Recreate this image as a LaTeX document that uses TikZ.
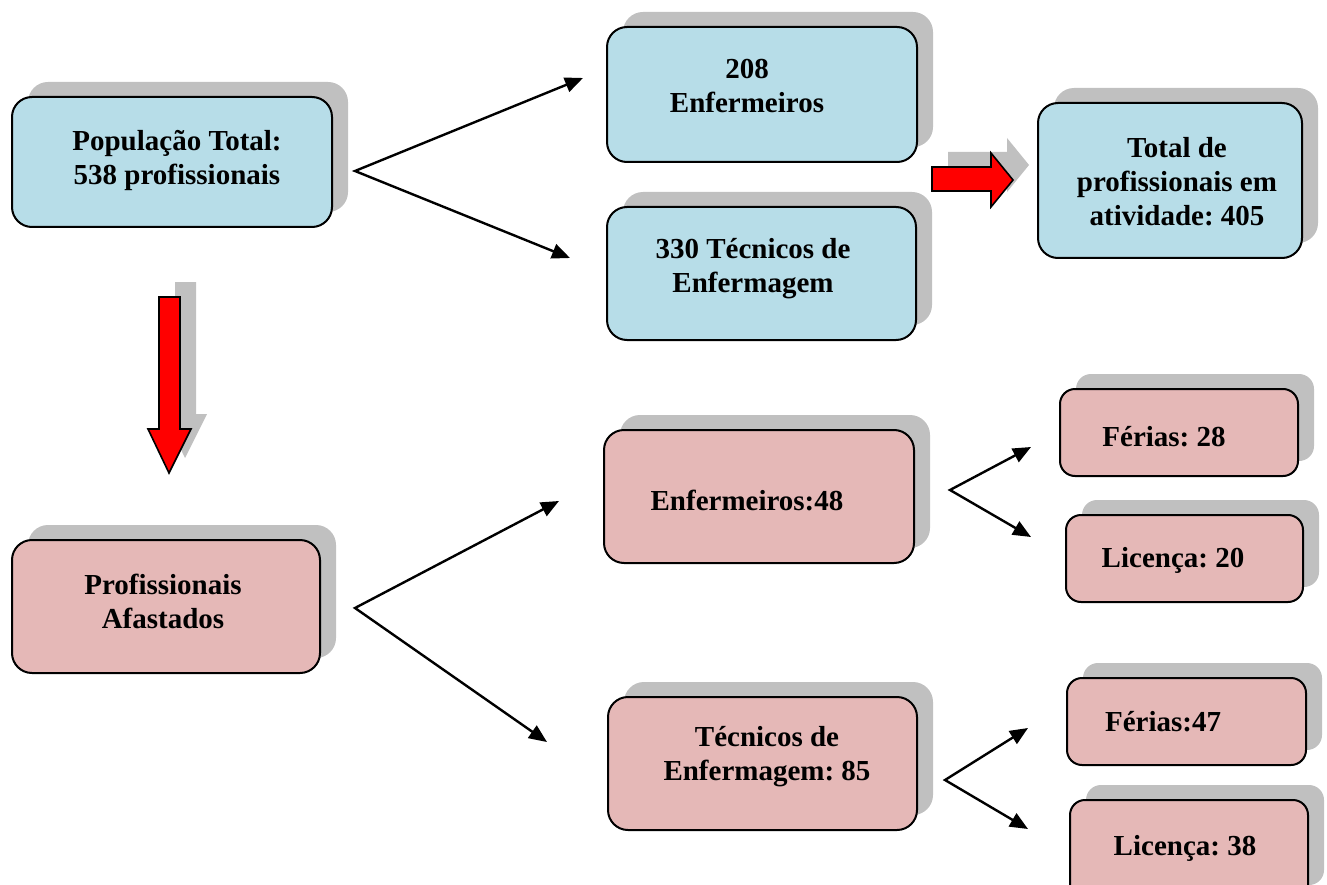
\documentclass[tikz,border=0pt]{standalone}
\usepackage{fontspec}
\setmainfont{Liberation Serif}
\usetikzlibrary{arrows.meta}
\definecolor{bluebox}{RGB}{183,221,232}
\definecolor{pinkbox}{RGB}{229,184,183}
\definecolor{shadowc}{RGB}{192,192,192}
\definecolor{redarr}{RGB}{255,0,0}
\tikzset{
  boxst/.style={draw=black, line width=2pt, inner sep=0pt},
  txt/.style={align=center, inner sep=0pt, font=\frenchspacing\bfseries\fontsize{29}{34}\selectfont},
  fork/.style={line width=2.4pt, line join=miter, {Triangle[length=18pt,width=15pt]}-{Triangle[length=18pt,width=15pt]}},
  bigarrow/.style={fill=redarr, draw=black, line width=1.6pt, line join=miter},
}
% name, left, top, right, bottom, fill, radius
\newcommand\mkbox[7]{%
  \fill[shadowc, rounded corners=#7] (#2+16,#3-15) rectangle (#4+16,#5-15);
  \node[boxst, fill=#6, rounded corners=#7, minimum width={(#4-#2)*1pt}, minimum height={(#5-#3)*1pt}] (#1) at ({(#2+#4)/2},{(#3+#5)/2}) {};
}
\begin{document}
\frenchspacing
\begin{tikzpicture}[x=1pt,y=-1pt]
\useasboundingbox (0,0) rectangle (1327,885);
\clip (0,0) rectangle (1327,885);
\fill[white] (0,0) rectangle (1327,885);

% boxes
\mkbox{pop}{12}{97}{332}{227}{bluebox}{20pt}
\mkbox{enfA}{607}{27}{917}{162}{bluebox}{20pt}
\mkbox{tecA}{607}{207}{916}{340}{bluebox}{20pt}
\mkbox{total}{1038}{103}{1302}{258}{bluebox}{20pt}
\mkbox{afast}{12}{540}{320}{673}{pinkbox}{20pt}
\mkbox{enfB}{604}{430}{914}{563}{pinkbox}{20pt}
\mkbox{tecB}{608}{697}{917}{830}{pinkbox}{20pt}
\mkbox{ferA}{1060}{389}{1298}{476}{pinkbox}{15pt}
\mkbox{licA}{1066}{515}{1303}{602}{pinkbox}{15pt}
\mkbox{ferB}{1067}{678}{1306}{765}{pinkbox}{15pt}
\mkbox{licB}{1070}{800}{1308}{900}{pinkbox}{15pt}

% texts
\node[txt] (popT) at (177,160) {População Total:\\538 profissionais};
\node[txt] (enfAT) at (747,86) {208\\Enfermeiros};
\node[txt] (tecAT) at (753,269) {330 Técnicos de\\Enfermagem};
\node[txt] (totalT) at (1177,182) {Total de\\profissionais em\\atividade: 405};
\node[txt] (afastT) at (163,601) {Profissionais\\Afastados};
\node[txt] (enfBT) at (747,500) {Enfermeiros:48};
\node[txt] (tecBT) at (767,757) {Técnicos de\\Enfermagem: 85};
\node[txt] (ferAT) at (1164,437) {Férias: 28};
\node[txt] (licAT) at (1173,560) {Licença: 20};
\node[txt] (ferBT) at (1163,722) {Férias:47};
\node[txt] (licBT) at (1185,848) {Licença: 38};

% fork connectors
\coordinate (f1) at (355,171);
\coordinate (f1a) at (583,78);
\coordinate (f1b) at (570,258);
\draw[fork] (f1a) -- (f1) -- (f1b);
\coordinate (f2) at (355,608);
\coordinate (f2a) at (559,501);
\coordinate (f2b) at (547,742);
\draw[fork] (f2a) -- (f2) -- (f2b);
\coordinate (f3) at (950,490);
\coordinate (f3a) at (1031,447);
\coordinate (f3b) at (1031,537);
\draw[fork] (f3a) -- (f3) -- (f3b);
\coordinate (f4) at (945,780);
\coordinate (f4a) at (1028,728);
\coordinate (f4b) at (1028,829);
\draw[fork] (f4a) -- (f4) -- (f4b);

% red block arrows with shadows
\begin{scope}[shift={(16,-15)}]
  \fill[shadowc] (932,167) -- (991,167) -- (991,153) -- (1013,180) -- (991,207) -- (991,191) -- (932,191) -- cycle;
  \fill[shadowc] (159,297) -- (180,297) -- (180,429) -- (191,429) -- (169,473) -- (148,429) -- (159,429) -- cycle;
\end{scope}
\draw[bigarrow] (932,167) -- (991,167) -- (991,153) -- (1013,180) -- (991,207) -- (991,191) -- (932,191) -- cycle;
\draw[bigarrow] (159,297) -- (180,297) -- (180,429) -- (191,429) -- (169,473) -- (148,429) -- (159,429) -- cycle;
\end{tikzpicture}
\end{document}
